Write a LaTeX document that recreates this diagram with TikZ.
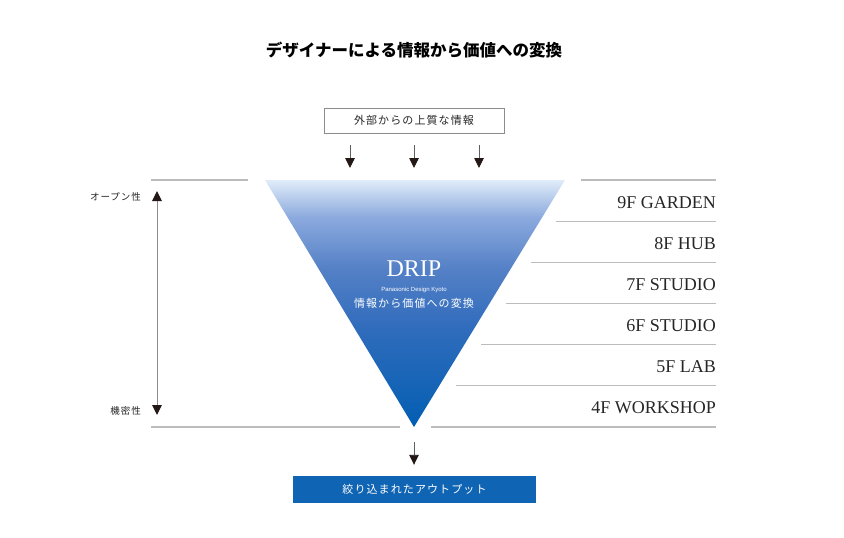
\documentclass[tikz,border=0pt]{standalone}
\usepackage{fontspec}
\setmainfont{Liberation Serif}
\newfontfamily\jpfont{Noto Sans CJK JP}
\newfontfamily\jpspaced[LetterSpace=10]{Noto Sans CJK JP}
\newfontfamily\tagfont{Liberation Sans}
\usetikzlibrary{arrows.meta}
\definecolor{dripblue}{RGB}{2,94,178}
\definecolor{driplow}{RGB}{48,108,188}
\definecolor{dripmid}{RGB}{84,128,198}
\definecolor{driphigh}{RGB}{140,170,222}
\definecolor{driplight}{RGB}{224,236,249}
\definecolor{outblue}{RGB}{16,100,180}
\definecolor{floorgray}{RGB}{188,188,188}
\definecolor{boxgray}{RGB}{140,140,140}
\definecolor{arrowgray}{RGB}{95,95,95}
\definecolor{scalegray}{RGB}{140,140,140}
\definecolor{headblack}{RGB}{35,24,21}
\pgfdeclareverticalshading{dripfade}{100bp}{color(0bp)=(dripblue); color(25bp)=(dripblue); color(45bp)=(driplow); color(57bp)=(dripmid); color(67.5bp)=(driphigh); color(75bp)=(driplight); color(100bp)=(driplight)}
\tikzset{
	floorline/.style={line width=1.1pt, color=floorgray},
	flowarrow/.style={line width=0.9pt, color=arrowgray, -{Triangle[length=10pt,width=9.5pt,color=headblack]}},
	scalearrow/.style={line width=1pt, color=scalegray, {Triangle[length=10pt,width=9.5pt,color=headblack]}-{Triangle[length=10pt,width=9.5pt,color=headblack]}},
	floorlabel/.style={anchor=east, inner sep=0pt, text=black!85, font=\fontsize{18}{18}\selectfont},
	sidelabel/.style={anchor=east, inner sep=0pt, text=black!85, font=\jpspaced\fontsize{9.5}{9.5}\selectfont},
	jptext/.style={font=\jpspaced\fontsize{11}{11}\selectfont},
}

\begin{document}
\begin{tikzpicture}[x=1pt, y=-1pt]
			%%%%% START %%%%%
			\useasboundingbox (0, 0) rectangle (844, 538);
			
			\node[font=\jpfont\bfseries\fontsize{16.5}{16.5}\selectfont] (title) at (414, 50) {デザイナーによる情報から価値への変換};
			
			\node[draw=boxgray, line width=0.8pt, minimum width=180pt, minimum height=25pt, inner sep=0pt, jptext, text=black!85] (source) at (414, 120.5) {外部からの上質な情報};
			
			\foreach \x [count=\k] in {350, 414, 479} {
				\coordinate (feedtop\k) at (\x, 145);
				\coordinate (feedend\k) at (\x, 168);
				\draw[flowarrow] (feedtop\k) -- (feedend\k);
			}
			
			\coordinate (dripTL) at (265, 180);
			\coordinate (dripTR) at (565, 180);
			\coordinate (dripV) at (414, 427);
			\shade[shading=dripfade] (dripTL) -- (dripTR) -- (dripV) -- cycle;
			
			\node[text=white, inner sep=0pt, font=\fontsize{24}{24}\selectfont] (drip) at (414, 269) {DRIP};
			\node[text=white, inner sep=0pt, font=\tagfont\fontsize{6}{6}\selectfont] (dripsub) at (414, 289.5) {Panasonic Design Kyoto};
			\node[text=white, inner sep=0pt, jptext] (dripnote) at (414, 303) {情報から価値への変換};
			
			% floors
			\foreach \i in {0, ..., 6}
				\draw[floorline] ({581 - 25.06*\i}, {180 + 41.17*\i}) -- (716, {180 + 41.17*\i});
			\foreach \lbl [count=\i from 0] in {9F GARDEN, 8F HUB, 7F STUDIO, 6F STUDIO, 5F LAB, 4F WORKSHOP}
				\node[floorlabel] (floor\i) at (716, {203 + 41*\i}) {\lbl};
			
			\draw[floorline] (151, 180) -- (248, 180);
			\draw[floorline] (151, 427) -- (400, 427);
			
			\coordinate (opentip) at (157, 191);
			\coordinate (closedtip) at (157, 415);
			\draw[scalearrow] (opentip) -- (closedtip);
			\node[sidelabel] (open) at (141, 197) {オープン性};
			\node[sidelabel] (closed) at (141, 411) {機密性};
			
			\node[fill=outblue, minimum width=243pt, minimum height=27pt, inner sep=0pt, jptext, text=white] (output) at (414.5, 489.5) {絞り込まれたアウトプット};
			\coordinate (dripout) at (414, 442);
			\draw[flowarrow, shorten >=11pt] (dripout) -- (output.north -| dripout);
			
			%%%%% END %%%%%
\end{tikzpicture}
\end{document}
